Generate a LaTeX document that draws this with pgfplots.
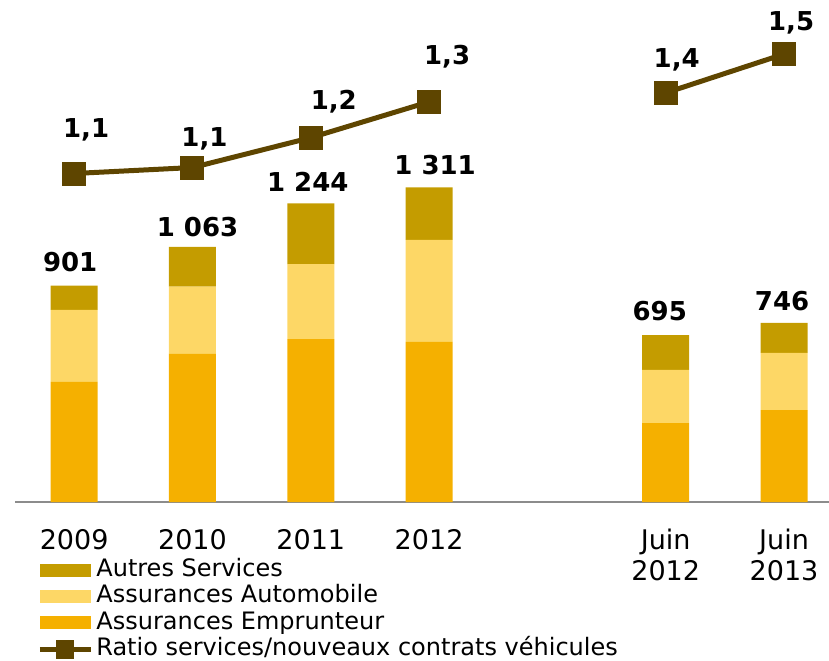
\documentclass[border=0pt]{standalone}
\usepackage{fontspec}
\setmainfont{DejaVu Sans}
\usepackage{pgfplots}
\pgfplotsset{compat=1.18}
\usepackage{pgfplotstable}

\definecolor{emprunteur}{HTML}{F5B000}
\definecolor{auto}{HTML}{FDD766}
\definecolor{autres}{HTML}{C49C00}
\definecolor{ratio}{HTML}{5E4500}
\definecolor{axisgray}{HTML}{8C8C8C}

% x emprunteur automobile autres
\pgfplotstableread{
x emp auto autres
0 500 300 101
1 617 280 166
2 679 312 253
3 667 425 219
5 329 221 145
6 383 238 125
}\bars

\pgfplotstableread{
x ratio
0 1.10
1 1.12
2 1.22
3 1.34
}\ratioA
\pgfplotstableread{
x ratio
5 1.37
6 1.50
}\ratioB

\begin{document}
\begin{tikzpicture}
\useasboundingbox (0,0) rectangle (414.5pt,-330pt);
\pgfplotsset{
  common/.style={
    at={(7.5pt,-251pt)}, anchor=south west,
    scale only axis, width=407pt, height=241pt,
    xmin=-0.5, xmax=6.38,
    clip=false,
  },
}
\begin{axis}[
  common,
  ymin=0, ymax=2008,
  ybar stacked, bar width=23.5pt,
  axis x line=bottom, axis y line=none,
  x axis line style={draw=axisgray, line width=1pt, -},
  xtick={0,1,2,3,5,6},
  xticklabels={2009,2010,2011,2012,{Juin\\2012},{Juin\\2013}},
  xtick style={draw=none},
  xticklabel style={font=\fontsize{13.5}{15.5}\selectfont, align=center, yshift=-8pt},
  ytick=\empty,
  reverse legend,
  legend style={
    at={(0.027,-0.113)}, anchor=north west,
    draw=none, fill=none,
    font=\fontsize{12}{13}\selectfont,
    row sep=0pt, inner sep=0pt,
    nodes={inner sep=0pt, text height=9.7pt, text depth=3.5pt},
    /tikz/every odd column/.append style={column sep=1.5pt},
  },
  legend cell align=left,
]
\addlegendimage{legend image code/.code={
  \draw[ratio, line width=2.5pt] (0pt,0pt) -- (25.5pt,0pt);
  \fill[ratio] (8.5pt,-4.5pt) rectangle (17pt,4.5pt);}}
\addlegendentry{Ratio services/nouveaux contrats véhicules}
\addplot[fill=emprunteur, draw=none,
  legend image code/.code={\fill[emprunteur] (0pt,-3.25pt) rectangle (25.5pt,3.25pt);}]
  table[x=x, y=emp] {\bars};
\addlegendentry{Assurances Emprunteur}
\addplot[fill=auto, draw=none,
  legend image code/.code={\fill[auto] (0pt,-3.25pt) rectangle (25.5pt,3.25pt);}]
  table[x=x, y=auto] {\bars};
\addlegendentry{Assurances Automobile}
\addplot[fill=autres, draw=none,
  legend image code/.code={\fill[autres] (0pt,-3.25pt) rectangle (25.5pt,3.25pt);}]
  table[x=x, y=autres] {\bars};
\addlegendentry{Autres Services}
% totals
\tikzset{tot/.style={font=\fontsize{13}{15}\selectfont\bfseries, anchor=center}}
\node[tot, xshift=-2pt, yshift=12pt] at (axis cs:0,901) {901};
\node[tot, xshift=2.5pt, yshift=10pt] at (axis cs:1,1063) {1 063};
\node[tot, xshift=-1.5pt, yshift=11pt] at (axis cs:2,1244) {1 244};
\node[tot, xshift=3pt, yshift=11pt] at (axis cs:3,1311) {1 311};
\node[tot, xshift=-3pt, yshift=12pt] at (axis cs:5,695) {695};
\node[tot, xshift=-1pt, yshift=11pt] at (axis cs:6,746) {746};
\end{axis}

\begin{axis}[
  common,
  ymin=0, ymax=1.614,
  hide axis,
]
\addplot[ratio, line width=2.5pt, mark=square*, mark size=4.75pt,
  mark options={solid}] table[x=x, y=ratio] {\ratioA};
\addplot[ratio, line width=2.5pt, mark=square*, mark size=4.75pt,
  mark options={solid}] table[x=x, y=ratio] {\ratioB};
\tikzset{lab/.style={font=\fontsize{13}{15}\selectfont\bfseries, anchor=center}}
\node[lab, xshift=6pt, yshift=22pt] at (axis cs:0,1.10) {1,1};
\node[lab, xshift=6pt, yshift=14.5pt] at (axis cs:1,1.12) {1,1};
\node[lab, xshift=11.5pt, yshift=18pt] at (axis cs:2,1.22) {1,2};
\node[lab, xshift=9pt, yshift=22.5pt] at (axis cs:3,1.34) {1,3};
\node[lab, xshift=5.5pt, yshift=16.5pt] at (axis cs:5,1.37) {1,4};
\node[lab, xshift=3.5pt, yshift=15.5pt] at (axis cs:6,1.50) {1,5};
\end{axis}
\end{tikzpicture}
\end{document}
